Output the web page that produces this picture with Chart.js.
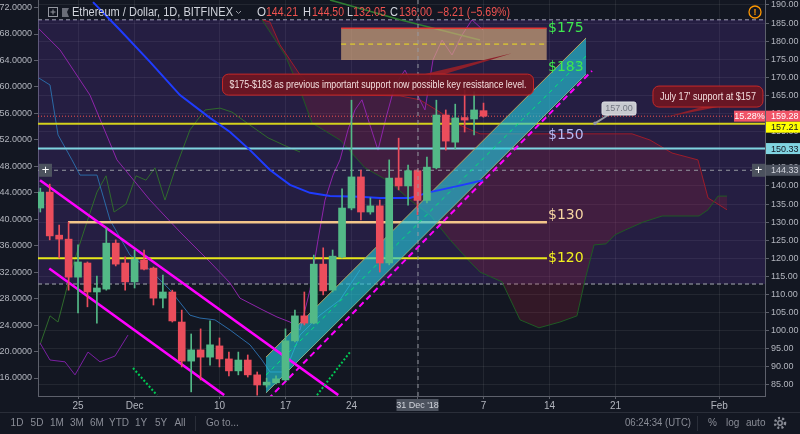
<!DOCTYPE html>
<html>
<head>
<meta charset="utf-8">
<title>Ethereum / Dollar, 1D, BITFINEX</title>
<script src="https://cdn.jsdelivr.net/npm/chart.js@4.4.1/dist/chart.umd.min.js"></script>
<style>
  html, body { margin: 0; padding: 0; background: #131722; overflow: hidden; }
  canvas { display: block; }
</style>
</head>
<body>
<canvas id="myChart" width="800" height="434"></canvas>
<script>
// daily candles
let dates = ['2018-11-21','2018-11-22','2018-11-23','2018-11-24','2018-11-25','2018-11-26','2018-11-27','2018-11-28','2018-11-29','2018-11-30',
  '2018-12-01','2018-12-02','2018-12-03','2018-12-04','2018-12-05','2018-12-06','2018-12-07','2018-12-08','2018-12-09','2018-12-10',
  '2018-12-11','2018-12-12','2018-12-13','2018-12-14','2018-12-15','2018-12-16','2018-12-17','2018-12-18','2018-12-19','2018-12-20',
  '2018-12-21','2018-12-22','2018-12-23','2018-12-24','2018-12-25','2018-12-26','2018-12-27','2018-12-28','2018-12-29','2018-12-30',
  '2018-12-31',
  '2019-01-01','2019-01-02','2019-01-03','2019-01-04','2019-01-05','2019-01-06','2019-01-07'];
let opens = [133.9,138.3,126.4,125.3,114.8,118.7,110.7,111.5,124.2,118.7,
  113.5,119.5,117.3,109.0,110.7,102.4,91.6,94.7,92.7,95.8,
  92.2,88.9,91.9,87.8,85.0,85.6,86.4,97.2,104.1,102.1,
  118.4,111.2,120.4,133.9,142.5,132.8,134.5,118.7,142.2,140.0,
  144.21,
  136.0,145.0,159.6,152.1,158.9,158.5,160.8];
let highs = [139.4,140.5,129.2,130.0,123.7,119.0,115.1,128.4,125.1,120.4,
  122.3,122.3,117.6,115.4,111.2,105.7,99.1,100.5,102.7,98.0,
  94.1,94.1,93.3,88.6,86.9,87.5,100.5,105.7,110.7,120.9,
  122.9,122.3,139.2,163.7,144.4,136.7,136.1,147.2,153.2,145.8,
  144.5,
  148.0,163.7,161.0,162.6,166.5,166.0,162.9];
let lows = [132.8,125.1,120.1,111.2,104.9,106.6,102.1,111.2,117.9,111.2,
  111.8,116.8,107.1,106.3,102.4,90.0,83.1,86.4,90.5,90.0,
  87.5,87.8,87.2,82.2,84.4,85.3,86.1,96.9,101.6,101.9,
  109.9,110.7,120.1,133.4,130.6,132.2,116.2,118.2,138.9,134.7,
  132.05,
  135.3,144.7,149.9,150.2,154.9,154.1,159.0];
let closes = [138.3,126.2,125.3,114.8,119.0,110.7,111.8,124.2,118.4,113.5,
  119.8,117.0,109.0,110.7,102.7,91.6,94.7,92.7,96.1,92.2,
  88.9,91.9,87.8,85.0,85.8,86.7,97.2,104.1,102.1,118.4,
  111.0,120.6,133.9,142.5,132.8,134.5,118.7,142.2,140.0,144.21,
  136.0,
  145.2,159.6,152.4,158.8,158.2,161.0,159.28];

// axes
let tickDates = ['2018-11-25','2018-12-01','2018-12-10','2018-12-17','2018-12-24','2018-12-31','2019-01-07','2019-01-14','2019-01-21','2019-02-01'];
let tickLabels = ['25','Dec','10','17','24',"31 Dec '18",'7','14','21','Feb'];
let rightTicks = [85,90,95,100,105,110,115,120,125,130,135,140,145,150,155,160,165,170,175,180,185,190];
let leftTicks = [16,20,24,28,32,36,40,44,48,52,56,60,64,68,72];

// drawn levels and tags
let lastPrice = 159.28;
let crossPrice = 144.33;
let crossDate = '2018-12-31';
let supportLevels = [157.21, 150.33];
let zoneLevels = [130, 120];
let zonePrices = [174.8, 183.6];
let boxPrices = [112.9, 185.9];
let levelTexts = ['$175', '$183', '$150', '$130', '$120'];
let levelTextPrices = [183.6, 172.9, 154.1, 132.0, 120.1];

// drawing tools and indicators, [day since 21 Nov, price]
let descUpper = [[-0.03,141.6],[31.6,82.2]];
let descLower = [[0.95,117.2],[19.5,82.2]];
let chanLower = [[23.93,82.8],[57.87,170.9]];
let chanUpper = [[23.93,92.7],[57.87,180.9]];
let chanDashed = [[24.15,81.1],[58.5,171.8]];
let blueLine = [[5.59,190.8],[8.45,183.1],[11.63,174.3],[14.81,165.1],[17.99,158.8],[20.12,154.9],[22.24,149.9],[24.36,144.4],
  [26.48,140.3],[28.6,138.1],[30.72,137.2],[33.9,137.0],[36.02,136.7],[39.2,136.7],[41.33,138.3],[44.82,140.3],[46.94,141.6]];
let cloudUpper = [[23.51,185.9],[24.36,185.3],[25.42,179.0],[27.54,170.7],[29.66,165.4],[33.9,165.1],[38.14,164.9],[40.26,163.8],
  [42.38,160.4],[44.5,156.8],[46.63,154.4],[62.75,154.4],[64.65,152.7],[66.99,149.1],[69.74,147.2],[70.81,136.7],[72.82,133.4]];
let cloudLower = [[23.51,185.9],[25.95,176.2],[27.54,166.5],[28.81,157.4],[31.78,152.7],[34.43,145.0],[37.08,141.1],[39.2,136.1],
  [41.33,132.0],[43.45,125.1],[45.57,119.0],[46.63,116.2],[48.96,113.5],[50.87,103.0],[52.88,100.8],[55.11,102.4],[56.91,104.1],
  [57.76,114.0],[58.72,123.7],[59.99,124.0],[60.95,126.5],[62.01,127.8],[63.92,130.0],[65.94,131.7],[69.85,131.7],[70.81,133.4],
  [71.87,137.2],[72.82,137.2]];
let greenLine = [[-0.03,96.1],[1.03,104.1],[1.88,102.4],[3.36,117.3],[4.74,128.4],[6.01,138.3],[6.97,142.8],[7.82,132.8],[9.09,135.0],
  [10.15,142.8],[11.21,141.6],[12.16,145.0],[13.22,136.1],[14.28,144.4],[15.87,155.5],[17.47,161.0],[19.06,161.5],[20.33,160.4],
  [22.24,156.8],[24.15,153.3],[26.48,150.5],[27.54,149.4]];
let steelLine = [[-0.14,169.8],[1.03,167.9],[1.88,154.1],[3.36,147.2],[4.21,143.0],[6.01,143.0],[7.39,130.6],[9.51,120.9],[11.63,116.8],
  [13.75,111.3],[15.87,104.3],[16.93,103.5],[18.52,103.0],[20.12,100.2],[22.24,96.1],[23.51,91.9],[24.36,88.6],[25.95,88.6],
  [27.54,98.8],[29.66,104.3],[31.78,108.5],[33.9,116.8]];
let purpleLine = [[-0.14,183.4],[2.09,177.6],[5.27,165.1],[8.13,147.2],[11.63,136.1],[14.81,127.3],[17.99,119.0],[20.12,113.2],
  [21.17,109.0],[23.62,105.7],[25.1,103.8],[26.48,102.4],[27.54,100.2],[28.6,111.3],[29.45,125.1],[30.19,136.1],[31.04,143.0],
  [31.78,147.2],[32.63,155.5],[33.37,161.0],[34.11,163.8],[34.96,156.8],[35.81,149.9],[36.66,158.8],[37.61,167.9],[38.67,172.0],
  [39.73,166.5],[40.79,161.0],[41.64,174.8],[42.6,180.3],[43.66,176.2],[44.72,181.7],[45.78,185.9],[46.94,183.1]];
let purpleLow = [[-0.03,96.6],[1.03,91.9],[2.62,91.4],[3.68,87.8],[5.06,94.1],[6.33,91.4],[7.92,93.0],[9.3,98.8]];
let topGreen = [[30.72,191.4],[38.14,185.9],[46.63,180.3]];
let sarDown = [[9.83,89.7],[12.37,82.2]];
let sarUp = [[29.34,82.2],[32.84,94.1]];

const X_MIN = -0.244, X_MAX = 76.85;
const GREEN = '#53b987', RED = '#eb4d5c';
const FONT = '"Liberation Sans", Arial, sans-serif';

function toDay(s) {
    return (Date.parse(s) - Date.parse(dates[0])) / 86400000;
}
let candleDays = dates.map(toDay);
let tickDays = tickDates.map(toDay);
let crossDay = toDay(crossDate);
let candleColors = dates.map((d, i) => closes[i] >= opens[i] ? GREEN : RED);

function pts(arr) {
    return arr.map(p => ({ x: p[0], y: p[1] }));
}
function flat(price, x0, x1) {
    return [{ x: x0, y: price }, { x: x1, y: price }];
}
function line(data, color, width, extra) {
    return Object.assign({
        type: 'line', data: data, borderColor: color, borderWidth: width,
        pointRadius: 0, fill: false, tension: 0, yAxisID: 'y'
    }, extra || {});
}

let datasets = [
    line(flat(boxPrices[1], X_MIN, X_MAX), '#787b86', 1.5, { borderDash: [4, 3] }),
    line(flat(boxPrices[0], X_MIN, X_MAX), '#787b86', 1.5, { borderDash: [4, 3], fill: '-1', backgroundColor: 'rgba(103,58,183,0.22)' }),
    line(pts(cloudUpper), '#9c1c28', 1),
    line(pts(cloudLower), '#1f5a24', 1, { fill: '-1', backgroundColor: 'rgba(170,30,60,0.22)' }),
    line(pts(greenLine), '#2f6a2c', 1),
    line(pts(steelLine), '#2b6aa6', 1),
    line(pts(purpleLine), '#8e24aa', 1),
    line(pts(purpleLow), '#7b1fa2', 1),
    line(pts(topGreen), '#2e7d32', 1.5),
    line(flat(zoneLevels[0], 2.94, 53.73), '#f3c58a', 2.5),
    line(flat(zoneLevels[1], X_MIN, 53.73), '#e8e81a', 2),
    line(flat(supportLevels[0], X_MIN, X_MAX), '#d4d21c', 2),
    line(flat(supportLevels[1], X_MIN, X_MAX), '#7fd3e0', 2),
    line(flat(lastPrice, X_MIN, X_MAX), '#ef5350', 1, { borderDash: [1, 2] }),
    line(flat(crossPrice, X_MIN, X_MAX), '#9598a1', 1, { borderDash: [4, 4] }),
    line(pts(chanLower), '#b8a35c', 1),
    line(pts(chanUpper), '#b8a35c', 1, { fill: '-1', backgroundColor: 'rgba(38,198,218,0.64)' }),
    line(pts(chanLower).map((p, i) => ({ x: p.x, y: (p.y + chanUpper[i][1]) / 2 })), '#00e676', 1, { borderDash: [4, 4] }),
    line(pts(chanDashed), '#ff00ff', 2, { borderDash: [6, 4] }),
    line(pts(descUpper), '#ff00ff', 2.5),
    line(pts(descLower), '#ff00ff', 2.5),
    line(pts(sarDown), '#00c853', 2, { borderDash: [2, 2] }),
    line(pts(sarUp), '#00c853', 2, { borderDash: [2, 2] }),
    line(pts(blueLine), '#1f3cff', 2),
    {
        type: 'bar', yAxisID: 'y', grouped: false, barThickness: 1,
        data: dates.map((d, i) => ({ x: candleDays[i], y: [lows[i], highs[i]] })),
        backgroundColor: candleColors
    },
    {
        type: 'bar', yAxisID: 'y', grouped: false, barThickness: 7, minBarLength: 1,
        data: dates.map((d, i) => ({ x: candleDays[i], y: [opens[i], closes[i]] })),
        backgroundColor: candleColors
    }
];
datasets.forEach((ds, i) => { ds.order = datasets.length - i; });

function noPad(s) {
    s.paddingTop = 0; s.paddingBottom = 0; s.paddingLeft = 0; s.paddingRight = 0;
}

function box(g, x, y, w, h, fill, text, color, font) {
    g.fillStyle = fill;
    g.fillRect(x, y, w, h);
    g.fillStyle = color;
    g.font = font;
    g.textAlign = 'center';
    g.textBaseline = 'middle';
    g.fillText(text, x + w / 2, y + h / 2 + 0.5);
}

function callout(g, text, cx, cy, w, h, tipX, tipY, b0, b1, fromTop) {
    let edge = fromTop ? cy - h / 2 : cy + h / 2;
    g.fillStyle = '#8e1f2a';
    g.beginPath();
    g.moveTo(cx + b0, edge);
    g.lineTo(tipX, tipY);
    g.lineTo(cx + b1, edge);
    g.closePath();
    g.fill();
    g.fillStyle = 'rgba(110,22,34,0.92)';
    g.strokeStyle = '#c62828';
    g.lineWidth = 1;
    g.beginPath();
    g.roundRect(cx - w / 2, cy - h / 2, w, h, 6);
    g.fill();
    g.stroke();
    g.fillStyle = '#f3dede';
    g.font = '10px ' + FONT;
    g.textAlign = 'center';
    g.textBaseline = 'middle';
    g.fillText(text, cx, cy + 0.5, w - 14);
}

const overlay = {
    id: 'overlay',
    beforeDraw(c) {
        let g = c.ctx;
        g.save();
        g.fillStyle = '#131722';
        g.fillRect(0, 0, c.width, c.height);
        let x = c.scales.x.getPixelForValue(crossDay);
        g.fillStyle = '#4c525e';
        g.fillRect(x - 21, 399, 42, 12);
        g.restore();
    },
    afterDatasetsDraw(c) {
        let g = c.ctx, a = c.chartArea, X = c.scales.x, Y = c.scales.y;
        let px = v => X.getPixelForValue(v), py = v => Y.getPixelForValue(v);
        g.save();
        g.beginPath();
        g.rect(a.left, a.top, a.right - a.left, a.bottom - a.top);
        g.clip();

        // resistance zone
        let zx0 = px(31.9), zx1 = px(53.7), zy0 = py(zonePrices[1]), zy1 = py(zonePrices[0]);
        g.fillStyle = 'rgba(214,170,122,0.68)';
        g.fillRect(zx0, zy0, zx1 - zx0, zy1 - zy0);
        g.strokeStyle = '#e53935';
        g.lineWidth = 1.5;
        g.beginPath(); g.moveTo(zx0, zy0); g.lineTo(zx1, zy0); g.stroke();
        let zm = py((zonePrices[0] + zonePrices[1]) / 2);
        g.setLineDash([5, 4]);
        g.strokeStyle = '#f0e020';
        g.lineWidth = 1;
        g.beginPath(); g.moveTo(zx0, zm); g.lineTo(zx1, zm); g.stroke();

        // crosshair
        g.strokeStyle = '#9598a1';
        g.setLineDash([4, 4]);
        g.beginPath(); g.moveTo(px(crossDay) + 0.5, a.top); g.lineTo(px(crossDay) + 0.5, a.bottom); g.stroke();
        g.setLineDash([]);

        // level captions
        let textColors = ['#3ee84f', '#3ee84f', '#b6b9f2', '#f6d5a2', '#f2f21e'];
        g.font = '14px "DejaVu Sans", sans-serif';
        g.textAlign = 'left';
        g.textBaseline = 'middle';
        levelTexts.forEach((t, i) => {
            g.fillStyle = textColors[i];
            g.fillText(t, px(53.84), py(levelTextPrices[i]));
        });

        // notes
        callout(g, '$175-$183 as previous important support now possible key resistance level.',
            px(35.81), py(168.0), 311, 21, px(50.02), py(176.7), 47, 67, true);
        callout(g, "July 17' support at $157", px(70.8), py(164.7), 110, 21, px(65.93), py(158.8), -6, 10, false);

        // price label tool
        let lx = px(61.37), ly = py(161.4);
        g.strokeStyle = '#9598a1';
        g.lineWidth = 2;
        g.beginPath(); g.moveTo(lx - 10, ly + 6); g.lineTo(px(58.82), py(157.3)); g.stroke();
        g.fillStyle = '#9598a1';
        g.beginPath(); g.arc(px(58.82), py(157.3), 1.8, 0, Math.PI * 2); g.fill();
        g.fillStyle = '#c8cad0';
        g.strokeStyle = '#e0e2e6';
        g.lineWidth = 1;
        g.beginPath(); g.roundRect(lx - 17, ly - 6.5, 34, 13, 2); g.fill(); g.stroke();
        g.fillStyle = '#737782';
        g.font = '9px ' + FONT;
        g.textAlign = 'center';
        g.fillText('157.00', lx, ly + 0.5);
        g.restore();
    },
    afterDraw(c) {
        let g = c.ctx, a = c.chartArea, Y = c.scales.y;
        let py = v => Y.getPixelForValue(v);
        g.save();

        // price tags on the right scale
        let tags = [[lastPrice, '#f05467', '#ffffff'], [supportLevels[0], '#ffff00', '#131722'],
            [supportLevels[1], '#80d4e0', '#131722'], [crossPrice, '#4c525e', '#d1d4dc']];
        let prevBottom = -100;
        tags.forEach(t => {
            let y = Math.max(py(t[0]) - 5.5, prevBottom);
            g.fillStyle = t[1];
            g.fillRect(a.right + 1, y, 35, 11);
            g.fillStyle = t[2];
            g.font = '9px ' + FONT;
            g.textAlign = 'left';
            g.textBaseline = 'middle';
            g.fillText(t[0].toFixed(2), a.right + 6, y + 6);
            prevBottom = y + 11;
        });
        box(g, a.right - 31, py(lastPrice) - 5.5, 31, 11, '#f05467', '15.28%', '#ffffff', '9px ' + FONT);
        box(g, a.right - 13, py(crossPrice) - 6.5, 13, 13, '#4c525e', '+', '#ffffff', '13px ' + FONT);
        box(g, a.left + 1, py(crossPrice) - 6.5, 13, 13, '#4c525e', '+', '#ffffff', '13px ' + FONT);

        // warning icon
        g.strokeStyle = '#ff9800';
        g.lineWidth = 1.3;
        g.beginPath(); g.arc(755, 12, 6, 0, Math.PI * 2); g.stroke();
        g.fillStyle = '#ff9800';
        g.font = 'bold 9px ' + FONT;
        g.textAlign = 'center';
        g.fillText('!', 755, 12.5);

        // header
        g.strokeStyle = '#9598a1';
        g.lineWidth = 1;
        g.strokeRect(48.5, 7.5, 9, 9);
        g.beginPath(); g.moveTo(53, 9.5); g.lineTo(53, 14.5); g.moveTo(50.5, 12); g.lineTo(55.5, 12); g.stroke();
        g.fillStyle = '#6a6d78';
        g.fillRect(62, 8, 3, 9);
        g.beginPath(); g.moveTo(65, 8); g.lineTo(69, 8); g.lineTo(67, 12); g.lineTo(69, 17); g.lineTo(65, 17); g.fill();
        g.textAlign = 'left';
        g.textBaseline = 'middle';
        g.font = '12px ' + FONT;
        g.fillStyle = '#d1d4dc';
        g.fillText('Ethereum / Dollar, 1D, BITFINEX', 72, 12.5, 161);
        g.beginPath(); g.moveTo(236, 11); g.lineTo(238.5, 13.5); g.lineTo(241, 11); g.stroke();
        let head = [['O', 257, 9, '#d1d4dc'], ['144.21', 266, 32, '#ef5350'], ['H', 303, 8, '#d1d4dc'], ['144.50', 312, 32, '#ef5350'],
            ['L', 347, 6, '#d1d4dc'], ['132.05', 353, 33, '#ef5350'], ['C', 390, 8, '#d1d4dc'], ['136.00', 399, 33, '#ef5350'],
            ['\u22128.21 (\u22125.69%)', 437, 73, '#ef5350']];
        head.forEach(h => {
            g.fillStyle = h[3];
            g.fillText(h[0], h[1], 12.5, h[2]);
        });

        // bottom toolbar
        g.strokeStyle = '#2a2e39';
        g.beginPath(); g.moveTo(0, 412.5); g.lineTo(800, 412.5); g.stroke();
        g.beginPath(); g.moveTo(195.5, 416); g.lineTo(195.5, 431); g.moveTo(697.5, 416); g.lineTo(697.5, 431); g.stroke();
        g.fillStyle = '#8a8d97';
        g.font = '10px ' + FONT;
        g.textAlign = 'center';
        let ranges = [['1D', 17], ['5D', 37], ['1M', 57], ['3M', 77], ['6M', 97], ['YTD', 119], ['1Y', 141], ['5Y', 161], ['All', 180]];
        ranges.forEach(r => g.fillText(r[0], r[1], 423.5));
        g.textAlign = 'left';
        g.fillText('Go to...', 206, 423.5);
        g.fillText('06:24:34 (UTC)', 625, 423.5, 66);
        g.fillText('%', 708, 423.5);
        g.fillText('log', 726, 423.5);
        g.fillText('auto', 746, 423.5);
        g.strokeStyle = '#8a8d97';
        g.lineWidth = 2.5;
        g.setLineDash([2, 2.2]);
        g.beginPath(); g.arc(780, 423, 5, 0, Math.PI * 2); g.stroke();
        g.setLineDash([]);
        g.lineWidth = 1.5;
        g.beginPath(); g.arc(780, 423, 2.2, 0, Math.PI * 2); g.stroke();
        g.restore();
    }
};

const ctx = document.getElementById('myChart');
new Chart(ctx, {
    type: 'bar',
    data: { datasets: datasets },
    plugins: [overlay],
    options: {
        responsive: false,
        animation: false,
        devicePixelRatio: 1,
        events: [],
        layout: { padding: 0 },
        plugins: { legend: { display: false }, tooltip: { enabled: false } },
        scales: {
            x: {
                type: 'linear', min: X_MIN, max: X_MAX, offset: false,
                grid: { offset: false, color: 'rgba(255,255,255,0.07)', tickLength: 3, tickColor: '#5d606b' },
                border: { color: '#5d606b' },
                ticks: {
                    autoSkip: false, maxRotation: 0, padding: 1,
                    color: ctx => ctx.tick && ctx.tick.value === crossDay ? '#d1d4dc' : '#b2b5be',
                    font: ctx => ({ family: FONT, size: ctx.tick && ctx.tick.value === crossDay ? 9 : 10 }),
                    callback: v => tickLabels[tickDays.indexOf(v)]
                },
                afterBuildTicks: s => { s.ticks = tickDays.map(v => ({ value: v })); },
                afterFit: s => { s.height = 38; noPad(s); }
            },
            y: {
                position: 'right', min: 81.96, max: 191.38,
                grid: { color: 'rgba(255,255,255,0.07)', tickLength: 4, tickColor: '#5d606b' },
                border: { color: '#5d606b' },
                ticks: { autoSkip: false, padding: 2, color: '#b2b5be', font: { family: FONT, size: 9 }, callback: v => v.toFixed(2) },
                afterBuildTicks: s => { s.ticks = rightTicks.map(v => ({ value: v })); },
                afterFit: s => { s.width = 35; noPad(s); }
            },
            y1: {
                position: 'left', min: 13.28, max: 73.14,
                grid: { drawOnChartArea: false, tickLength: 4, tickColor: '#5d606b' },
                border: { color: '#5d606b' },
                ticks: { autoSkip: false, padding: 2, color: '#b2b5be', font: { family: FONT, size: 9 }, callback: v => v.toFixed(4) },
                afterBuildTicks: s => { s.ticks = leftTicks.map(v => ({ value: v })); },
                afterFit: s => { s.width = 38; noPad(s); }
            }
        }
    }
});
</script>
</body>
</html>
